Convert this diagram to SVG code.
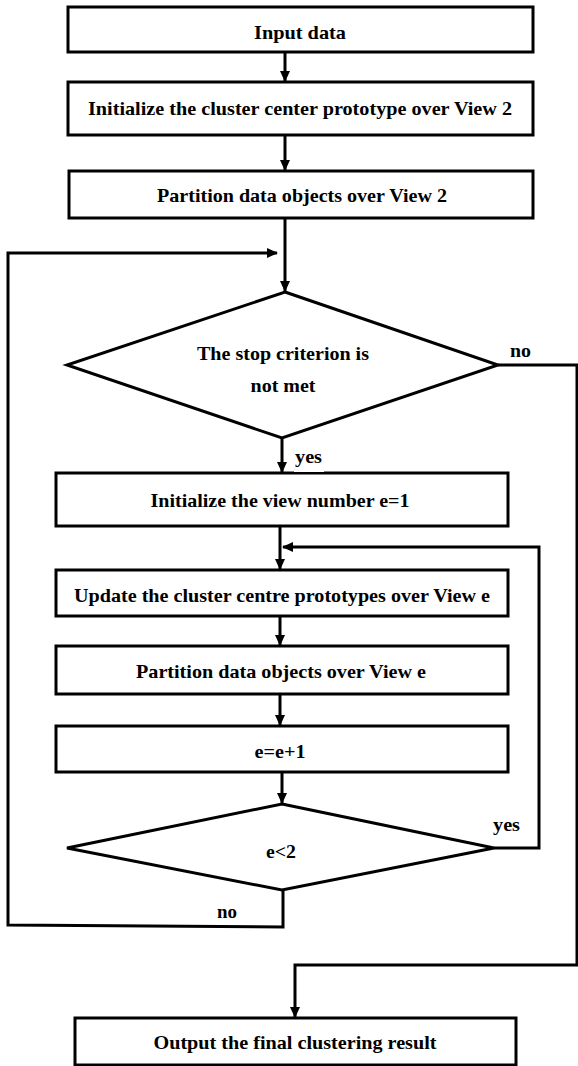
<svg xmlns="http://www.w3.org/2000/svg" width="578" height="1066" viewBox="0 0 578 1066">
<style>
.box{fill:#fff;stroke:#000;stroke-width:3}
.ln{fill:none;stroke:#000;stroke-width:3}
.t{font-family:"Liberation Serif","Times New Roman",serif;font-weight:bold;font-size:19px;fill:#000;text-anchor:middle}
.l{font-family:"Liberation Serif","Times New Roman",serif;font-weight:bold;font-size:19px;fill:#000}
</style>
<defs>
<marker id="ah" markerUnits="userSpaceOnUse" markerWidth="11" markerHeight="10" refX="10" refY="5" orient="auto">
<path d="M0,0 L11,5 L0,10 Z" fill="#000"/>
</marker>
</defs>
<g id="connectors">
<line class="ln" x1="285" y1="52" x2="285" y2="81" marker-end="url(#ah)"/>
<line class="ln" x1="285" y1="135" x2="285" y2="170" marker-end="url(#ah)"/>
<line class="ln" x1="285" y1="218" x2="285" y2="291" marker-end="url(#ah)"/>
<polyline class="ln" points="283,890 283,927 8,925 8,253 277,253" marker-end="url(#ah)"/>
<line class="ln" x1="282" y1="438" x2="282" y2="472" marker-end="url(#ah)"/>
<polyline class="ln" points="498,365 577,365 577,965 295,965 295,1017" marker-end="url(#ah)"/>
<line class="ln" x1="280" y1="526" x2="280" y2="569" marker-end="url(#ah)"/>
<polyline class="ln" points="494,848 539,848 539,547 283,547" marker-end="url(#ah)"/>
<line class="ln" x1="280" y1="616" x2="280" y2="645" marker-end="url(#ah)"/>
<line class="ln" x1="280" y1="694" x2="280" y2="725" marker-end="url(#ah)"/>
<line class="ln" x1="282" y1="772" x2="282" y2="803" marker-end="url(#ah)"/>
</g>
<g id="n1"><rect class="box" x="68" y="7" width="465" height="45"/><text class="t" x="300" y="39" textLength="92" lengthAdjust="spacingAndGlyphs">Input data</text></g>
<g id="n2"><rect class="box" x="68" y="82" width="465" height="53"/><text class="t" x="300" y="115" textLength="424" lengthAdjust="spacingAndGlyphs">Initialize the cluster center prototype over View 2</text></g>
<g id="n3"><rect class="box" x="69" y="171" width="464" height="47"/><text class="t" x="302" y="202" textLength="290" lengthAdjust="spacingAndGlyphs">Partition data objects over View 2</text></g>
<g id="d1"><polygon class="box" points="285,292 498,365 282,438 67,365"/><text class="t" x="283" y="360" textLength="172" lengthAdjust="spacingAndGlyphs">The stop criterion is</text><text class="t" x="283" y="392" textLength="65" lengthAdjust="spacingAndGlyphs">not met</text></g>
<g id="n4"><rect class="box" x="56" y="473" width="452" height="53"/><text class="t" x="280" y="507" textLength="259" lengthAdjust="spacingAndGlyphs">Initialize the view number e=1</text></g>
<g id="n5"><rect class="box" x="56" y="570" width="452" height="46"/><text class="t" x="282" y="602" textLength="416" lengthAdjust="spacingAndGlyphs">Update the cluster centre prototypes over View e</text></g>
<g id="n6"><rect class="box" x="56" y="646" width="452" height="48"/><text class="t" x="281" y="678" textLength="290" lengthAdjust="spacingAndGlyphs">Partition data objects over View e</text></g>
<g id="n7"><rect class="box" x="56" y="726" width="452" height="46"/><text class="t" x="280" y="758" textLength="51" lengthAdjust="spacingAndGlyphs">e=e+1</text></g>
<g id="d2"><polygon class="box" points="282,804 494,848 282,890 67,848"/><text class="t" x="281" y="858" textLength="30" lengthAdjust="spacingAndGlyphs">e&lt;2</text></g>
<g id="n8"><rect class="box" x="75" y="1018" width="441" height="47"/><text class="t" x="295" y="1049" textLength="283" lengthAdjust="spacingAndGlyphs">Output the final clustering result</text></g>
<g id="labels">
<text class="l" x="510" y="357" textLength="21" lengthAdjust="spacingAndGlyphs">no</text>
<rect x="294" y="448" width="30" height="24" fill="#fff"/>
<text class="l" x="295" y="463" textLength="27" lengthAdjust="spacingAndGlyphs">yes</text>
<text class="l" x="493" y="831" textLength="27" lengthAdjust="spacingAndGlyphs">yes</text>
<text class="l" x="217" y="918" textLength="20" lengthAdjust="spacingAndGlyphs">no</text>
</g>
</svg>
